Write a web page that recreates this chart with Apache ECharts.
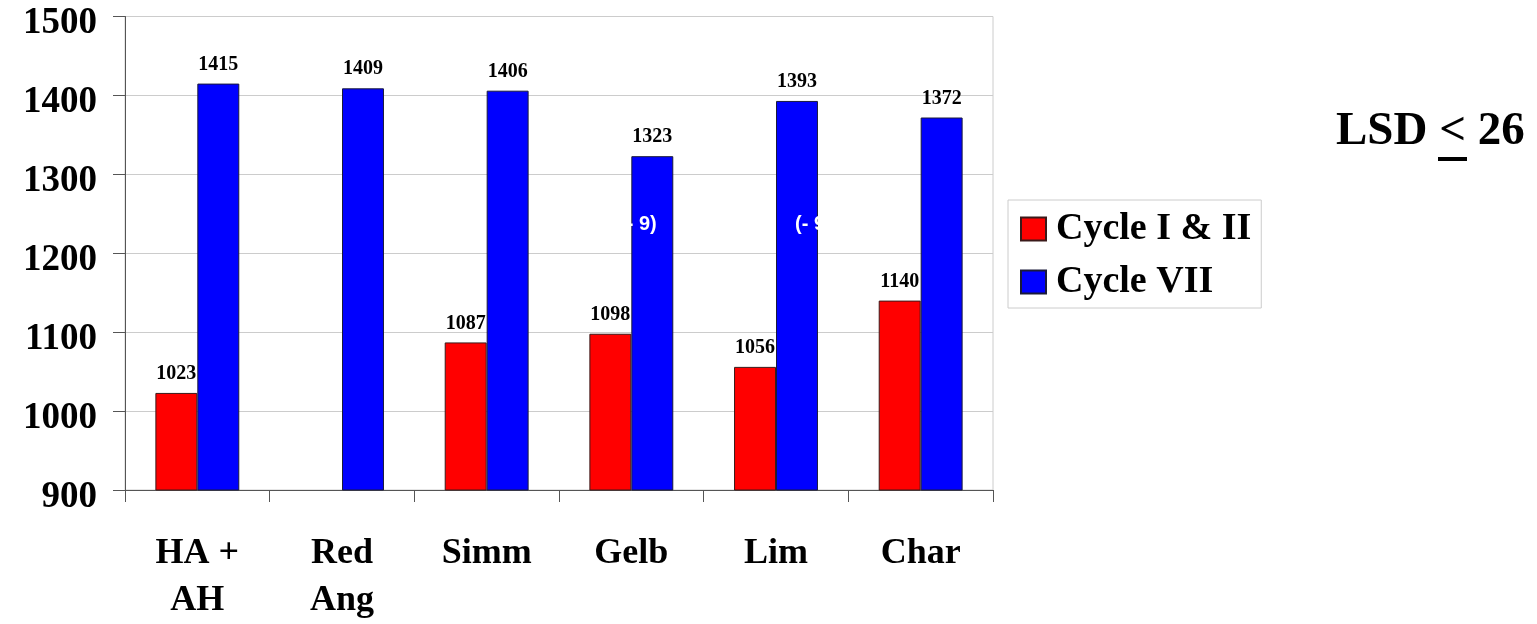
<!DOCTYPE html>
<html>
<head>
<meta charset="utf-8">
<script src="https://cdn.jsdelivr.net/npm/echarts@6/dist/echarts.min.js"></script>
<style>
  html, body { margin: 0; padding: 0; background: #fff; }
  #chart { width: 1537px; height: 624px; }
</style>
</head>
<body>
<div id="chart"></div>
<script>
// Treatment groups along the x axis
const categories = ['HA +\nAH', 'Red\nAng', 'Simm', 'Gelb', 'Lim', 'Char'];
// Mean values per group; '-' marks a group without a Cycle I & II bar
const cycle12 = [1023, '-', 1087, 1098, 1056, 1140];
const cycle7 = [1415, 1409, 1406, 1323, 1393, 1372];
const seriesNames = ['Cycle I & II', 'Cycle VII'];
// Value axis range
const yMin = 900, yMax = 1500, yStep = 100;

const serif = '"Liberation Serif", "Times New Roman", serif';

const chart = echarts.init(document.getElementById('chart'), null, { renderer: 'canvas' });

const valueLabel = {
  show: true,
  position: 'top',
  distance: 9,
  color: '#000',
  fontFamily: serif,
  fontWeight: 'bold',
  fontSize: 20
};

chart.setOption({
  animation: false,
  backgroundColor: '#fff',
  grid: {
    left: 125, right: 544, top: 16.5, bottom: 133.5,
    show: true, borderColor: '#cccccc', borderWidth: 1,
    containLabel: false
  },
  legend: {
    orient: 'vertical',
    left: 1008, top: 200,
    padding: [10, 10, 7, 12],
    itemWidth: 25, itemHeight: 23, itemGap: 15,
    borderColor: '#cccccc', borderWidth: 1,
    icon: 'rect',
    textStyle: {
      fontFamily: serif, fontWeight: 'bold', fontSize: 38, color: '#000',
      padding: [0, 0, 0, 5]
    },
    data: seriesNames
  },
  xAxis: {
    type: 'category',
    data: categories,
    axisLine: { show: true, lineStyle: { color: '#555', width: 1 } },
    axisTick: { show: true, length: 12, alignWithLabel: false, lineStyle: { color: '#555' } },
    axisLabel: {
      interval: 0, margin: 40,
      fontFamily: serif, fontWeight: 'bold', fontSize: 36, color: '#000',
      lineHeight: 47
    },
    splitLine: { show: false }
  },
  yAxis: {
    type: 'value',
    min: yMin, max: yMax, interval: yStep,
    axisLine: { show: true, lineStyle: { color: '#555', width: 1 } },
    axisTick: { show: true, inside: false, length: 12, lineStyle: { color: '#555' } },
    axisLabel: {
      margin: 28,
      formatter: (v) => String(v),
      fontFamily: serif, fontWeight: 'bold', fontSize: 37, color: '#000',
      verticalAlign: 'top',
      lineHeight: 14
    },
    splitLine: { show: true, lineStyle: { color: '#cccccc', width: 1 } }
  },
  series: [
    {
      name: seriesNames[0],
      type: 'bar',
      data: cycle12,
      barGap: '0%',
      barCategoryGap: '42%',
      itemStyle: { color: '#ff0000', borderColor: '#3a1a1a', borderWidth: 1 },
      label: valueLabel
    },
    {
      name: seriesNames[1],
      type: 'bar',
      data: cycle7,
      barGap: '0%',
      barCategoryGap: '42%',
      itemStyle: { color: '#0000ff', borderColor: '#1a1a3a', borderWidth: 1 },
      label: valueLabel
    }
  ],
  graphic: [
    // LSD note at the right
    {
      type: 'text', left: 1336, top: 108, z: 10,
      style: { text: 'LSD < 26', font: 'bold 47px ' + serif, fill: '#000' }
    },
    {
      type: 'rect', left: 1438, top: 157, z: 10,
      shape: { width: 29, height: 4 },
      style: { fill: '#000' }
    },
    // white difference notes laid over the bars
    {
      type: 'text', left: 620, top: 214, z: 20,
      style: { text: '(- 9)', font: 'bold 20px "Liberation Sans", Arial, sans-serif', fill: '#fff' }
    },
    {
      type: 'text', left: 795, top: 214, z: 20,
      style: { text: '(- 9)', font: 'bold 20px "Liberation Sans", Arial, sans-serif', fill: '#fff' }
    }
  ]
});
</script>
</body>
</html>
